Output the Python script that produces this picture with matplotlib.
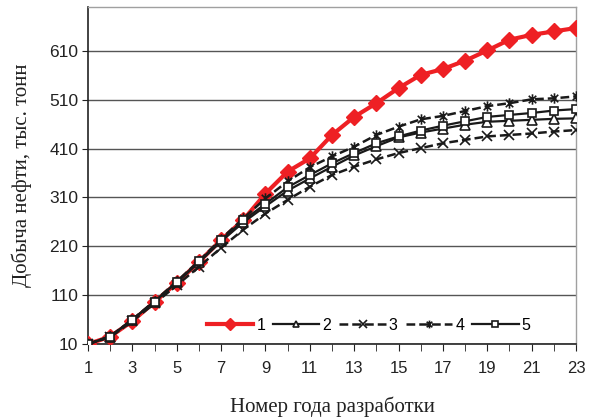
import matplotlib
matplotlib.use("Agg")
import matplotlib.pyplot as plt
from matplotlib.path import Path
from matplotlib.ticker import MultipleLocator, FixedLocator

years = list(range(1, 24))
s1 = [10, 25, 57, 96, 135, 178, 223, 264, 318, 363, 390, 438, 475, 503, 534, 561, 573, 590, 611, 633, 643, 650, 657]
s2 = [10, 25, 60, 97, 136, 177, 220, 259, 292, 324, 349, 373, 396, 415, 433, 443, 451, 459, 465, 467, 469, 471, 472]
s3 = [10, 24, 57, 93, 130, 168, 207, 244, 277, 305, 332, 356, 373, 388, 401, 411, 421, 428, 435, 438, 441, 445, 448]
s4 = [10, 26, 60, 98, 138, 180, 225, 267, 308, 343, 372, 394, 414, 438, 455, 470, 477, 487, 497, 503, 511, 513, 517]
s5 = [10, 25, 60, 97, 137, 179, 223, 263, 297, 331, 356, 380, 401, 421, 435, 447, 457, 466, 475, 479, 483, 488, 491]
labels = ["1", "2", "3", "4", "5"]
yticks = [10, 110, 210, 310, 410, 510, 610]
xticks = [1, 3, 5, 7, 9, 11, 13, 15, 17, 19, 21, 23]

ast = Path([(0, -1), (0, 1), (-0.72, -0.72), (0.72, 0.72), (-0.72, 0.72), (0.72, -0.72)],
           [Path.MOVETO, Path.LINETO, Path.MOVETO, Path.LINETO, Path.MOVETO, Path.LINETO])

fig = plt.figure(figsize=(5.89, 4.19), dpi=100)
ax = fig.add_axes([88/589, 1-344/419, (576-88)/589, (344-7)/419])

dash = (0, (3.5, 1.6))
ax.plot(years, s1, color="#ee2024", lw=3.0, marker="D", ms=8, mfc="#ee2024", mec="#ee2024", label=labels[0], zorder=3)
ax.plot(years, s2, color="#1a1a1a", lw=1.6, marker="^", ms=6.5, mfc="white", mec="#1a1a1a", mew=1.2, label=labels[1], zorder=4)
ax.plot(years, s3, color="#1a1a1a", lw=1.8, ls=dash, marker="x", ms=7, mec="#1a1a1a", mew=1.2, label=labels[2], zorder=4)
ax.plot(years, s4, color="#1a1a1a", lw=1.8, ls=dash, marker=ast, ms=7.5, mec="#1a1a1a", mew=1.2, label=labels[3], zorder=4)
ax.plot(years, s5, color="#1a1a1a", lw=1.6, marker="s", ms=5.8, mfc="white", mec="#1a1a1a", mew=1.2, label=labels[4], zorder=5)

ax.set_xlim(1, 23)
ax.set_ylim(10, 700)
ax.xaxis.set_major_locator(FixedLocator(xticks))
ax.xaxis.set_minor_locator(MultipleLocator(1))
ax.set_yticks(yticks)
ax.yaxis.grid(True, color="#555555", lw=1.0)
ax.set_axisbelow(True)

for s in ["top", "right"]:
    ax.spines[s].set_color("#a0a0a0")
    ax.spines[s].set_linewidth(1.0)
for s in ["left", "bottom"]:
    ax.spines[s].set_color("#222222")
    ax.spines[s].set_linewidth(1.2)

ax.tick_params(axis="both", which="both", direction="out", color="#222222")
ax.tick_params(axis="x", which="major", length=5, pad=7)
ax.tick_params(axis="x", which="minor", length=5)
ax.tick_params(axis="y", length=4, pad=3)
for lab in ax.get_xticklabels():
    lab.set_fontfamily("Liberation Sans")
    lab.set_fontsize(12)
    lab.set_color("#222222")
for lab in ax.get_yticklabels():
    lab.set_fontfamily("Liberation Sans")
    lab.set_fontsize(12.5)
    lab.set_color("#222222")

ax.set_xlabel("Номер года разработки", family="Liberation Serif", fontsize=15, color="#222222")
ax.set_ylabel("Добыча нефти, тыс. тонн", family="Liberation Serif", fontsize=15, color="#222222")
ax.xaxis.label.set_va("center")
ax.xaxis.set_label_coords(0.5, (344-407)/337)
ax.yaxis.label.set_va("center")
ax.yaxis.label.set_ha("center")
ax.yaxis.set_label_coords((22-88)/488, 0.5)

leg = ax.legend(loc="lower right", bbox_to_anchor=(0.93, 0.0), ncol=5, frameon=False,
                prop={"family": "Liberation Sans", "size": 11.5}, markerscale=0.75,
                handlelength=2.9, handletextpad=0.2, columnspacing=0.5, borderaxespad=0.3)

fig.savefig("out.png", dpi=100)
